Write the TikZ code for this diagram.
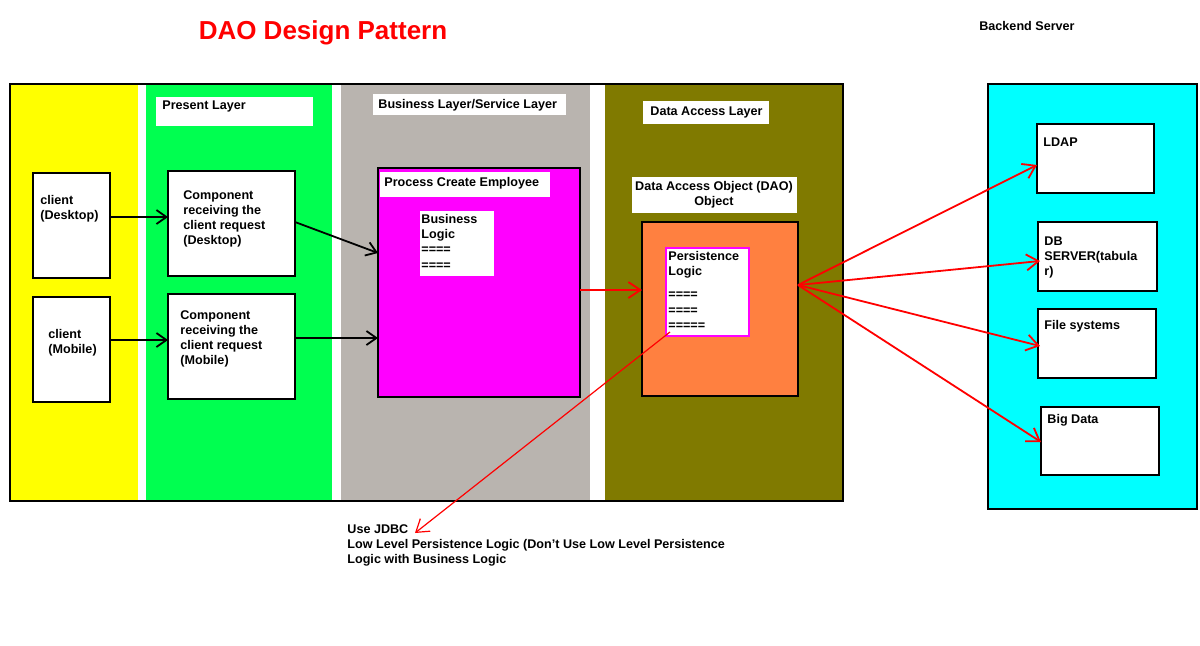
\documentclass[tikz,border=0pt]{standalone}
\usepackage{fontspec}
\setmainfont{Liberation Sans}
\usetikzlibrary{arrows.meta}
\definecolor{yel}{RGB}{255,255,0}
\definecolor{grn}{RGB}{0,255,80}
\definecolor{gry}{RGB}{185,180,175}
\definecolor{olv}{RGB}{128,122,0}
\definecolor{mag}{RGB}{255,0,255}
\definecolor{org}{RGB}{255,128,64}
\definecolor{cyn}{RGB}{0,255,255}
\tikzset{
  txt/.style={font=\fontsize{6.3}{7.6}\selectfont\bfseries, align=left, inner sep=1pt},
  blkarr/.style={-{Straight Barb[length=5pt,width=7pt]}, line width=0.9pt, black},
  redarr/.style={-{Straight Barb[length=6pt,width=8pt]}, line width=0.9pt, draw=red}
}
\begin{document}
\begin{tikzpicture}[x=0.5pt,y=-0.5pt]
\useasboundingbox (0,0) rectangle (1200,645);
\fill[white] (0,0) rectangle (1200,645);
\node[font=\fontsize{13}{15}\selectfont\bfseries, text=red] (title) at (323,33) {DAO Design Pattern};
\node[txt] (bs) at (1027,26) {Backend Server};
% layers
\fill[yel] (10,84) rectangle (138,501);
\fill[grn] (146,84) rectangle (332,501);
\fill[gry] (341,84) rectangle (590,501);
\fill[olv] (605,84) rectangle (843,501);
\draw[line width=1.2pt] (10,84) rectangle (843,501);
\fill[white] (156,97) rectangle (313,126);
\node[txt, anchor=west] (pl) at (160,106) {Present Layer};
\fill[white] (373,94) rectangle (566,115);
\node[txt, anchor=west] (bl) at (376,105) {Business Layer/Service Layer};
\fill[white] (643,101) rectangle (769,124);
\node[txt, anchor=west] (dal) at (648,112) {Data Access Layer};
% clients
\draw[fill=white, line width=1pt] (33,173) rectangle (110,278);
\node[txt, anchor=north west] (cd) at (38,193) {client\\(Desktop)};
\draw[fill=white, line width=1pt] (33,297) rectangle (110,402);
\node[txt, anchor=north west] (cm) at (46,327) {client\\(Mobile)};
\coordinate (cdR) at (110,217); \coordinate (cmR) at (110,340);
% components
\draw[fill=white, line width=1pt] (168,171) rectangle (295,276);
\node[txt, anchor=north west] (c1) at (181,188) {Component\\receiving the\\client request\\(Desktop)};
\draw[fill=white, line width=1pt] (168,294) rectangle (295,399);
\node[txt, anchor=north west] (c2) at (178,308) {Component\\receiving the\\client request\\(Mobile)};
\coordinate (c1L) at (168,217); \coordinate (c2L) at (168,340);
\coordinate (c1R) at (295,222); \coordinate (c2R) at (295,338);
% process
\draw[fill=mag, line width=1.2pt] (378,168) rectangle (580,397);
\fill[white] (380,172) rectangle (550,197);
\node[txt, anchor=west] (pce) at (382,183) {Process Create Employee};
\fill[white] (420,211) rectangle (494,276);
\node[txt, anchor=north west] (bl2) at (419,212) {Business\\Logic\\====\\====};
\coordinate (pA) at (378,253); \coordinate (pB) at (378,338); \coordinate (pR) at (580,290);
% DAO
\fill[white] (632,177) rectangle (797,213);
\node[txt, align=center] (dao) at (714,195) {Data Access Object (DAO)\\Object};
\draw[fill=org, line width=1.2pt] (642,222) rectangle (798,396);
\draw[fill=white, draw=mag, line width=0.6pt] (666,248) rectangle (749,336);
\node[txt, anchor=north west] (pers) at (666,249) {Persistence\\Logic\\[4pt]====\\====\\=====};
\coordinate (oL) at (642,290); \coordinate (oR) at (798,285); \coordinate (pl2) at (670,332);
% backend
\draw[fill=cyn, line width=1.2pt] (988,84) rectangle (1197,509);
\draw[fill=white, line width=1pt] (1037,124) rectangle (1154,193);
\node[txt, anchor=north west] (ldap) at (1041,135) {LDAP};
\draw[fill=white, line width=1pt] (1038,222) rectangle (1157,291);
\node[txt, anchor=north west] (db) at (1042,234) {DB\\SERVER(tabula\\r)};
\draw[fill=white, line width=1pt] (1038,309) rectangle (1156,378);
\node[txt, anchor=north west] (fs) at (1042,318) {File systems};
\draw[fill=white, line width=1pt] (1041,407) rectangle (1159,475);
\node[txt, anchor=north west] (bd) at (1045,412) {Big Data};
\coordinate (ldapL) at (1037,165); \coordinate (dbL) at (1040,261);
\coordinate (fsL) at (1040,346); \coordinate (bdL) at (1041,442);
\coordinate (noteT) at (415,533);
% arrows
\draw[blkarr] (cdR) -- (c1L);
\draw[blkarr] (cmR) -- (c2L);
\draw[blkarr] (c1R) -- (pA);
\draw[blkarr] (c2R) -- (pB);
\draw[redarr] (pR) -- (oL);
\draw[redarr] (oR) -- (ldapL);
\draw[redarr] (oR) -- (dbL);
\draw[redarr] (oR) -- (fsL);
\draw[redarr] (oR) -- (bdL);
\node[txt, anchor=north west] (note) at (345,522) {Use JDBC\\Low Level Persistence Logic (Don't Use Low Level Persistence\\Logic with Business Logic};
\draw[redarr, line width=0.6pt] (pl2) -- (noteT);
\end{tikzpicture}
\end{document}
